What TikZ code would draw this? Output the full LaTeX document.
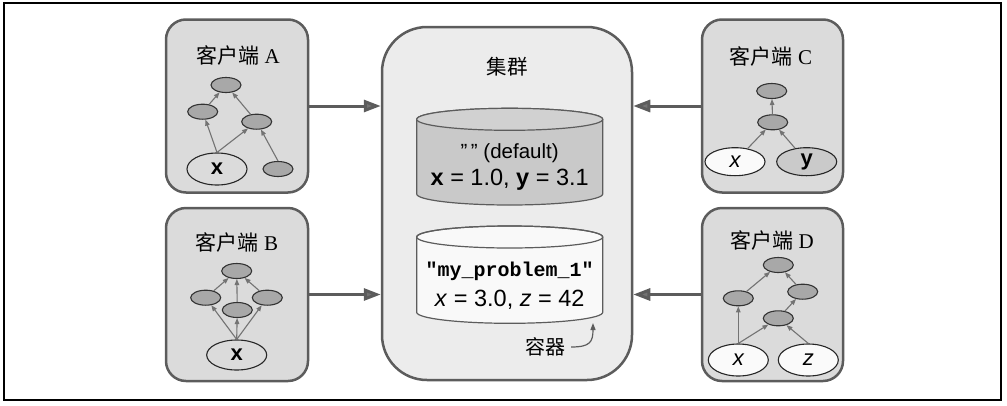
\documentclass[tikz,border=0pt]{standalone}
\usepackage{fontspec}
\setmainfont{Liberation Serif}
\setsansfont{Liberation Sans}
\setmonofont{Liberation Mono}
\newfontfamily\cjk{Noto Sans CJK SC}
\usetikzlibrary{arrows.meta,shapes.geometric}
\definecolor{boxfill}{gray}{0.86}
\definecolor{clfill}{gray}{0.925}
\definecolor{bordercol}{gray}{0.36}
\definecolor{snfill}{gray}{0.66}
\definecolor{edgecol}{gray}{0.45}
\definecolor{cylAfill}{gray}{0.79}
\definecolor{cylAtop}{gray}{0.82}
\definecolor{cylBfill}{gray}{0.975}
\definecolor{varwhite}{gray}{0.98}
\tikzset{
  client/.style={draw=bordercol, line width=2.5pt, fill=boxfill, rounded corners=20pt,
    minimum width=142pt, minimum height=173pt, inner sep=0pt},
  cluster/.style={draw=bordercol, line width=2.5pt, fill=clfill, rounded corners=45pt,
    minimum width=250pt, minimum height=353pt, inner sep=0pt},
  title/.style={font=\fontsize{21}{24}\selectfont, inner sep=0pt},
  sn/.style={ellipse, draw=black!80, line width=1.1pt, fill=snfill,
    minimum width=30pt, minimum height=15pt, inner sep=0pt},
  vn/.style={ellipse, draw=black!85, line width=1.1pt,
    minimum width=60pt, minimum height=30pt, inner sep=0pt,
    font=\sffamily\fontsize{22}{22}\selectfont},
  ed/.style={draw=edgecol, line width=1.1pt, -{Triangle[length=6pt,width=4.5pt]}},
  bigarrow/.style={draw=bordercol, line width=3pt,
    -{Triangle[length=17pt,width=12pt, fill=edgecol]}},
  cyl/.style={draw=bordercol, line width=1.2pt},
  cyltext/.style={font=\sffamily\fontsize{23.5}{26}\selectfont, inner sep=0pt},
  lblarrow/.style={draw=bordercol, line width=1.2pt, -{Triangle[length=7pt,width=5pt]}}
}
\begin{document}
\begin{tikzpicture}[x=1pt,y=-1pt]
\useasboundingbox (0,0) rectangle (1007,405);
\draw[line width=1.5pt] (4,3) rectangle (1001,400);

% boxes
\node[client] (cA) at (237,106) {};
\node[client] (cB) at (237,294.5) {};
\node[client, minimum width=141pt] (cC) at (772.5,106) {};
\node[client, minimum width=141pt] (cD) at (772.5,294.5) {};
\node[cluster] (cl) at (507,203.5) {};

% titles
\node[title] (tA) at (238,55) {{\cjk 客户端} A};
\node[title] (tB) at (237,242) {{\cjk 客户端} B};
\node[title] (tC) at (771,56) {{\cjk 客户端} C};
\node[title] (tD) at (772,240) {{\cjk 客户端} D};
\node[title, font=\cjk\fontsize{20.5}{24}\selectfont] (tcl) at (507,67) {集群};

% big arrows
\draw[bigarrow] (cA) -- (cA -| cl.west);
\draw[bigarrow] (cB) -- (cB -| cl.west);
\draw[bigarrow] (cC) -- (cC -| cl.east);
\draw[bigarrow] (cD) -- (cD -| cl.east);

% client A graph
\node[sn] (a1) at (226,85) {};
\node[sn] (a2) at (202.7,111.7) {};
\node[sn] (a3) at (256.7,121.7) {};
\node[vn, fill=boxfill, minimum height=32pt] (ax) at (217,169) {\bfseries x};
\node[sn] (a4) at (278,169) {};
\draw[ed] (ax.north) -- (a2);
\draw[ed] (ax.north) -- (a3);
\draw[ed] (a2) -- (a1);
\draw[ed] (a3) -- (a1);
\draw[ed] (a4.north) -- (a3);

% client B graph
\node[sn] (b1) at (236.7,271) {};
\node[sn] (b2) at (205.7,297.7) {};
\node[sn] (b3) at (237.3,310) {};
\node[sn] (b4) at (267.3,297.7) {};
\node[vn, fill=boxfill] (bx) at (236.7,355) {\bfseries x};
\draw[ed] (bx.north) -- (b2);
\draw[ed] (bx.north) -- (b3);
\draw[ed] (bx.north) -- (b4);
\draw[ed] (b2) -- (b1);
\draw[ed] (b3) -- (b1);
\draw[ed] (b4) -- (b1);

% client C graph
\node[sn] (c1) at (771.7,91) {};
\node[sn] (c2) at (772.7,122.3) {};
\node[vn, fill=varwhite, minimum height=28pt] (cx) at (735,161.7) {\itshape x};
\node[vn, fill=boxfill!92!black, minimum height=28pt] (cy) at (806.7,161.7) {\bfseries y};
\draw[ed] (c2) -- (c1);
\draw[ed] (cx) -- (c2);
\draw[ed] (cy) -- (c2);

% client D graph
\node[sn] (d1) at (778.3,265) {};
\node[sn] (d2) at (738.3,298.3) {};
\node[sn] (d3) at (802.7,291.7) {};
\node[sn] (d4) at (778.3,318.3) {};
\node[vn, fill=varwhite, minimum height=32pt] (dx) at (738.3,360) {\itshape x};
\node[vn, fill=varwhite, minimum height=32pt] (dz) at (808.3,360) {\itshape z};
\draw[ed] (dx.north) -- (d2);
\draw[ed] (dx.north) -- (d4);
\draw[ed] (dz.north) -- (d4);
\draw[ed] (d4) -- (d3);
\draw[ed] (d2) -- (d1);
\draw[ed] (d3) -- (d1);

% cylinder 1
\filldraw[cyl, fill=cylAfill] (416.7,119.3) -- (416.7,194)
  arc[start angle=180, end angle=360, x radius=93pt, y radius=11pt]
  -- (602.7,119.3)
  arc[start angle=0, end angle=180, x radius=93pt, y radius=11pt] -- cycle;
\filldraw[cyl, fill=cylAtop] (509.7,119.3) ellipse [x radius=93pt, y radius=11pt];
\node[cyltext, font=\sffamily\fontsize{20.5}{24}\selectfont] (k1) at (509.7,153) {"\,"~(default)};
\node[cyltext] (v1) at (509.7,180) {{\bfseries x} = 1.0, {\bfseries y} = 3.1};

% cylinder 2
\filldraw[cyl, fill=cylBfill] (416.7,237) -- (416.7,312.3)
  arc[start angle=180, end angle=360, x radius=93pt, y radius=11pt]
  -- (602.7,237)
  arc[start angle=0, end angle=180, x radius=93pt, y radius=11pt] -- cycle;
\draw[cyl] (509.7,237) ellipse [x radius=93pt, y radius=11pt];
\node[cyltext, font=\ttfamily\bfseries\fontsize{20}{24}\selectfont] (k2) at (509.7,271.7) {"my\_problem\_1"};
\node[cyltext] (v2) at (509.7,300) {\textit{x} = 3.0, \textit{z} = 42};

% container label
\node[font=\cjk\fontsize{20}{24}\selectfont, inner sep=0pt] (lbl) at (545,347) {容器};
\coordinate (tip) at (593,323);
\draw[lblarrow] ([xshift=6pt]lbl.east) .. controls (590,347) and (593,342) .. (tip);
\end{tikzpicture}
\end{document}
